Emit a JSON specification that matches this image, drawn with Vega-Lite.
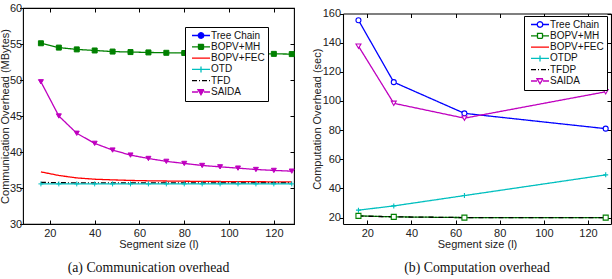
{
  "$schema": "https://vega.github.io/schema/vega-lite/v6.json",
  "padding": {"left": -1, "top": 1, "right": 0, "bottom": 0},
  "background": "white",
  "config": {
    "font": "Liberation Sans",
    "view": {"stroke": "#000", "strokeWidth": 1.1},
    "axis": {"grid": false, "domain": false, "tickColor": "#000", "tickWidth": 1, "domainColor": "#000", "domainWidth": 1.1, "labelFont": "Liberation Sans", "labelFontSize": 11, "labelColor": "#222", "titleFont": "Liberation Sans", "titleFontSize": 11, "titleFontWeight": "normal", "titleColor": "#222"},
    "legend": {"orient": "none", "padding": 3, "strokeColor": "#000", "fillColor": "white", "labelFont": "Liberation Sans", "labelFontSize": 10, "labelColor": "#111", "symbolSize": 100, "symbolOffset": 7, "labelOffset": 4, "rowPadding": 0.3, "clipHeight": 11, "symbolStrokeWidth": 1.3},
    "title": {"font": "Liberation Serif", "fontSize": 13.8, "fontWeight": "normal", "color": "#111"}
  },
  "spacing": 14,
  "columns": 2,
  "resolve": {"scale": {"color": "independent", "strokeDash": "independent", "shape": "independent", "fill": "independent", "stroke": "independent", "x": "independent", "y": "independent"}},
  "datasets": {
    "comm": [
      {"s": "BOPV+MH", "x": 16, "y": 55.1}, {"s": "BOPV+MH", "x": 24, "y": 54.5}, {"s": "BOPV+MH", "x": 32, "y": 54.25}, {"s": "BOPV+MH", "x": 40, "y": 54.1}, {"s": "BOPV+MH", "x": 48, "y": 53.95}, {"s": "BOPV+MH", "x": 56, "y": 53.88}, {"s": "BOPV+MH", "x": 64, "y": 53.83}, {"s": "BOPV+MH", "x": 72, "y": 53.78}, {"s": "BOPV+MH", "x": 80, "y": 53.75}, {"s": "BOPV+MH", "x": 88, "y": 53.72}, {"s": "BOPV+MH", "x": 96, "y": 53.7}, {"s": "BOPV+MH", "x": 104, "y": 53.68}, {"s": "BOPV+MH", "x": 112, "y": 53.66}, {"s": "BOPV+MH", "x": 120, "y": 53.63}, {"s": "BOPV+MH", "x": 128, "y": 53.6},
      {"s": "SAIDA", "x": 16, "y": 49.75}, {"s": "SAIDA", "x": 24, "y": 45.0}, {"s": "SAIDA", "x": 32, "y": 42.6}, {"s": "SAIDA", "x": 40, "y": 41.2}, {"s": "SAIDA", "x": 48, "y": 40.27}, {"s": "SAIDA", "x": 56, "y": 39.57}, {"s": "SAIDA", "x": 64, "y": 39.1}, {"s": "SAIDA", "x": 72, "y": 38.7}, {"s": "SAIDA", "x": 80, "y": 38.41}, {"s": "SAIDA", "x": 88, "y": 38.13}, {"s": "SAIDA", "x": 96, "y": 37.94}, {"s": "SAIDA", "x": 104, "y": 37.76}, {"s": "SAIDA", "x": 112, "y": 37.57}, {"s": "SAIDA", "x": 120, "y": 37.44}, {"s": "SAIDA", "x": 128, "y": 37.34},
      {"s": "BOPV+FEC", "x": 16, "y": 37.24}, {"s": "BOPV+FEC", "x": 24, "y": 36.74}, {"s": "BOPV+FEC", "x": 32, "y": 36.4}, {"s": "BOPV+FEC", "x": 40, "y": 36.22}, {"s": "BOPV+FEC", "x": 48, "y": 36.13}, {"s": "BOPV+FEC", "x": 56, "y": 36.05}, {"s": "BOPV+FEC", "x": 64, "y": 36.0}, {"s": "BOPV+FEC", "x": 72, "y": 35.97}, {"s": "BOPV+FEC", "x": 80, "y": 35.94}, {"s": "BOPV+FEC", "x": 88, "y": 35.92}, {"s": "BOPV+FEC", "x": 96, "y": 35.9}, {"s": "BOPV+FEC", "x": 104, "y": 35.88}, {"s": "BOPV+FEC", "x": 112, "y": 35.87}, {"s": "BOPV+FEC", "x": 120, "y": 35.86}, {"s": "BOPV+FEC", "x": 128, "y": 35.85},
      {"s": "TFD", "x": 16, "y": 35.78}, {"s": "TFD", "x": 24, "y": 35.73}, {"s": "TFD", "x": 32, "y": 35.72}, {"s": "TFD", "x": 40, "y": 35.72}, {"s": "TFD", "x": 48, "y": 35.72}, {"s": "TFD", "x": 56, "y": 35.72}, {"s": "TFD", "x": 64, "y": 35.72}, {"s": "TFD", "x": 72, "y": 35.72}, {"s": "TFD", "x": 80, "y": 35.72}, {"s": "TFD", "x": 88, "y": 35.72}, {"s": "TFD", "x": 96, "y": 35.72}, {"s": "TFD", "x": 104, "y": 35.72}, {"s": "TFD", "x": 112, "y": 35.72}, {"s": "TFD", "x": 120, "y": 35.72}, {"s": "TFD", "x": 128, "y": 35.72},
      {"s": "OTD", "x": 16, "y": 35.57}, {"s": "OTD", "x": 24, "y": 35.57}, {"s": "OTD", "x": 32, "y": 35.57}, {"s": "OTD", "x": 40, "y": 35.57}, {"s": "OTD", "x": 48, "y": 35.57}, {"s": "OTD", "x": 56, "y": 35.57}, {"s": "OTD", "x": 64, "y": 35.57}, {"s": "OTD", "x": 72, "y": 35.57}, {"s": "OTD", "x": 80, "y": 35.57}, {"s": "OTD", "x": 88, "y": 35.57}, {"s": "OTD", "x": 96, "y": 35.57}, {"s": "OTD", "x": 104, "y": 35.57}, {"s": "OTD", "x": 112, "y": 35.57}, {"s": "OTD", "x": 120, "y": 35.57}, {"s": "OTD", "x": 128, "y": 35.57}
    ],
    "comp": [
      {"s": "Tree Chain", "x": 16, "y": 155.4}, {"s": "Tree Chain", "x": 32, "y": 112.9}, {"s": "Tree Chain", "x": 64, "y": 91.5}, {"s": "Tree Chain", "x": 128, "y": 81.0},
      {"s": "SAIDA", "x": 16, "y": 137.6}, {"s": "SAIDA", "x": 32, "y": 98.4}, {"s": "SAIDA", "x": 64, "y": 88.2}, {"s": "SAIDA", "x": 128, "y": 106.3},
      {"s": "OTDP", "x": 16, "y": 25.1}, {"s": "OTDP", "x": 32, "y": 28.0}, {"s": "OTDP", "x": 64, "y": 35.1}, {"s": "OTDP", "x": 128, "y": 49.3},
      {"s": "BOPV+MH", "x": 16, "y": 21.2}, {"s": "BOPV+MH", "x": 32, "y": 20.5}, {"s": "BOPV+MH", "x": 64, "y": 20.0}, {"s": "BOPV+MH", "x": 128, "y": 20.0},
      {"s": "TFDP", "x": 16, "y": 21.1}, {"s": "TFDP", "x": 32, "y": 20.5}, {"s": "TFDP", "x": 64, "y": 20.0}, {"s": "TFDP", "x": 128, "y": 20.0}
    ]
  },
  "concat": [
    {
      "width": 271,
      "height": 216,
      "data": {"name": "comm"},
      "title": {"text": "(a) Communication overhead", "orient": "bottom", "frame": "group", "offset": 11, "dx": -10},
      "resolve": {"axis": {"x": "independent", "y": "independent"}},
      "layer": [
        {
          "mark": {"type": "line", "strokeWidth": 1.3},
          "encoding": {
            "x": {"field": "x", "type": "quantitative", "scale": {"domain": [8, 129], "nice": false, "zero": false}, "axis": {"orient": "bottom", "values": [20, 40, 60, 80, 100, 120], "tickSize": -4, "labelPadding": 7.5, "title": "Segment size (l)", "titlePadding": 0}},
            "y": {"field": "y", "type": "quantitative", "scale": {"domain": [30, 60], "nice": false, "zero": false}, "axis": {"orient": "left", "values": [30, 35, 40, 45, 50, 55, 60], "tickSize": 3.5, "labelPadding": -2.2, "title": "Communication Overhead (MBytes)", "titlePadding": -1.5}},
            "color": {"field": "s", "type": "nominal", "scale": {"domain": ["Tree Chain", "BOPV+MH", "BOPV+FEC", "OTD", "TFD", "SAIDA"], "range": ["#0000ff", "#008000", "#ff0000", "#00bfbf", "#000000", "#bf00bf"]},
              "legend": {"title": null, "legendX": 162, "legendY": 19,
                "encode": {"symbols": {"update": {
                  "shape": {"signal": "datum.value==='Tree Chain'?'M-1.8,0H-0.55M0.55,0H1.8M-0.55,0A0.55,0.55 0 1,1 0.55,0A0.55,0.55 0 1,1 -0.55,0Z':datum.value==='BOPV+MH'?'M-1.8,0H-0.5M0.5,0H1.8M-0.5,-0.5H0.5V0.5H-0.5Z':datum.value==='OTD'?'M-1.8,0H1.8M0,-0.6V0.6':datum.value==='SAIDA'?'M-1.8,0H-0.6M0.6,0H1.8M-0.6,-0.45H0.6L0,0.55Z':'M-1.8,0H1.8'"},
                  "fill": {"signal": "datum.value==='Tree Chain'?'#0000ff':datum.value==='BOPV+MH'?'#008000':datum.value==='SAIDA'?'#bf00bf':'transparent'"},
                  "strokeDash": {"signal": "datum.value==='TFD'?[5,2,1,2]:[1,0]"}
                }}}}},
            "strokeDash": {"field": "s", "type": "nominal", "scale": {"domain": ["Tree Chain", "BOPV+MH", "BOPV+FEC", "OTD", "TFD", "SAIDA"], "range": [[1, 0], [1, 0], [1, 0], [1, 0], [5, 2, 1, 2], [1, 0]]}, "legend": null}
          }
        },
        {
          "transform": [{"filter": "datum.s !== 'BOPV+FEC' && datum.s !== 'TFD'"}],
          "mark": {"type": "point", "filled": true, "size": 25, "strokeWidth": 1, "opacity": 1},
          "encoding": {
            "x": {"field": "x", "type": "quantitative", "axis": null},
            "y": {"field": "y", "type": "quantitative", "axis": null},
            "fill": {"field": "s", "type": "nominal", "scale": {"domain": ["Tree Chain", "BOPV+MH", "OTD", "SAIDA"], "range": ["#0000ff", "#008000", "#00bfbf", "#bf00bf"]}, "legend": null},
            "stroke": {"field": "s", "type": "nominal", "scale": {"domain": ["Tree Chain", "BOPV+MH", "OTD", "SAIDA"], "range": ["#0000ff", "#008000", "#00bfbf", "#bf00bf"]}, "legend": null},
            "shape": {"field": "s", "type": "nominal", "scale": {"domain": ["Tree Chain", "BOPV+MH", "OTD", "SAIDA"], "range": ["circle", "square", "M-1,0H1M0,-1V1", "triangle-down"]}, "legend": null}
          }
        },
        {
          "mark": {"type": "point", "opacity": 0},
          "encoding": {
            "x": {"field": "x", "type": "quantitative", "axis": {"orient": "top", "values": [20, 40, 60, 80, 100, 120], "tickSize": -4, "labels": false, "title": null}},
            "y": {"field": "y", "type": "quantitative", "axis": {"orient": "right", "values": [30, 35, 40, 45, 50, 55, 60], "tickSize": -4, "labels": false, "title": null}}
          }
        }
      ]
    },
    {
      "width": 268,
      "height": 216,
      "view": {"stroke": null},
      "data": {"name": "comp"},
      "title": {"text": "(b) Computation overhead", "orient": "bottom", "frame": "group", "offset": 11},
      "resolve": {"axis": {"x": "independent", "y": "independent"}},
      "layer": [
        {
          "mark": {"type": "line", "strokeWidth": 1.3},
          "encoding": {
            "x": {"field": "x", "type": "quantitative", "scale": {"domain": [9, 130.4], "nice": false, "zero": false}, "axis": {"orient": "bottom", "domain": true, "values": [20, 40, 60, 80, 100, 120], "tickSize": -4, "labelPadding": 7.5, "title": "Segment size (l)", "titlePadding": 0}},
            "y": {"field": "y", "type": "quantitative", "scale": {"domain": [15.6, 160], "range": [216, 5.5], "nice": false, "zero": false}, "axis": {"orient": "left", "domain": true, "values": [20, 40, 60, 80, 100, 120, 140, 160], "tickSize": 3.5, "labelPadding": -1, "title": "Computation Overhead (sec)", "titlePadding": -0.4}},
            "color": {"field": "s", "type": "nominal", "scale": {"domain": ["Tree Chain", "BOPV+MH", "BOPV+FEC", "OTDP", "TFDP", "SAIDA"], "range": ["#0000ff", "#008000", "#ff0000", "#00bfbf", "#000000", "#bf00bf"]},
              "legend": {"title": null, "legendX": 181, "legendY": 8,
                "encode": {"symbols": {"update": {
                  "shape": {"signal": "datum.value==='Tree Chain'?'M-1.8,0H-0.55M0.55,0H1.8M-0.55,0A0.55,0.55 0 1,1 0.55,0A0.55,0.55 0 1,1 -0.55,0Z':datum.value==='BOPV+MH'?'M-1.8,0H-0.5M0.5,0H1.8M-0.5,-0.5H0.5V0.5H-0.5Z':datum.value==='OTDP'?'M-1.8,0H1.8M0,-0.6V0.6':datum.value==='SAIDA'?'M-1.8,0H-0.6M0.6,0H1.8M-0.6,-0.45H0.6L0,0.55Z':'M-1.8,0H1.8'"},
                  "fill": {"value": "white"},
                  "strokeDash": {"signal": "datum.value==='TFDP'?[5,2,1,2]:[1,0]"}
                }}}}},
            "strokeDash": {"field": "s", "type": "nominal", "scale": {"domain": ["Tree Chain", "BOPV+MH", "BOPV+FEC", "OTDP", "TFDP", "SAIDA"], "range": [[1, 0], [1, 0], [1, 0], [1, 0], [5, 2, 1, 2], [1, 0]]}, "legend": null}
          }
        },
        {
          "transform": [{"filter": "datum.s !== 'TFDP'"}],
          "mark": {"type": "point", "filled": false, "fill": "white", "size": 25, "strokeWidth": 1.1, "opacity": 1},
          "encoding": {
            "x": {"field": "x", "type": "quantitative", "axis": null},
            "y": {"field": "y", "type": "quantitative", "axis": null},
            "stroke": {"field": "s", "type": "nominal", "scale": {"domain": ["Tree Chain", "BOPV+MH", "OTDP", "SAIDA"], "range": ["#0000ff", "#008000", "#00bfbf", "#bf00bf"]}, "legend": null},
            "shape": {"field": "s", "type": "nominal", "scale": {"domain": ["Tree Chain", "BOPV+MH", "OTDP", "SAIDA"], "range": ["circle", "square", "M-1,0H1M0,-1V1", "triangle-down"]}, "legend": null}
          }
        },
        {
          "mark": {"type": "point", "opacity": 0},
          "encoding": {
            "x": {"field": "x", "type": "quantitative", "axis": {"orient": "top", "domain": true, "offset": -5.5, "values": [20, 40, 60, 80, 100, 120], "tickSize": -4, "labels": false, "title": null}},
            "y": {"field": "y", "type": "quantitative", "axis": {"orient": "right", "domain": true, "values": [20, 40, 60, 80, 100, 120, 140, 160], "tickSize": -4, "labels": false, "title": null}}
          }
        }
      ]
    }
  ]
}
